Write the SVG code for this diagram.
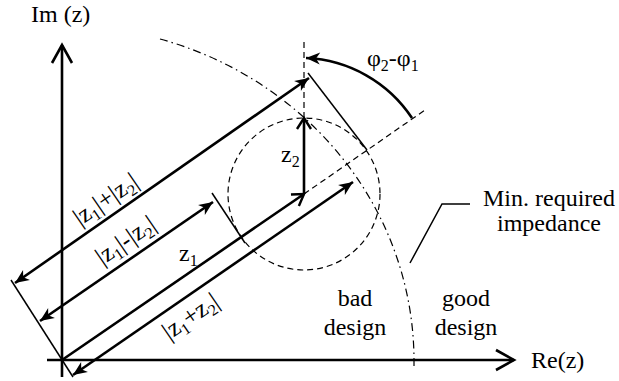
<svg xmlns="http://www.w3.org/2000/svg" width="619" height="381" viewBox="0 0 619 381" font-family="'Liberation Serif', 'DejaVu Serif', serif">
<style>
text{font-family:'Liberation Serif','DejaVu Serif',serif;fill:#000}
.lbl{font-size:24px}
.rot{font-size:25px}
.sub{font-size:16px}
.thick{stroke:#000;stroke-width:2.6;fill:none}
.thin{stroke:#000;stroke-width:1.5;fill:none}
.dash{stroke:#000;stroke-width:1.2;fill:none;stroke-dasharray:6 4}
.dashdot{stroke:#000;stroke-width:1.2;fill:none;stroke-dasharray:8 4 1.5 4}
</style>
<defs>
<marker id="axis" viewBox="-22 -12 26 24" markerWidth="26" markerHeight="24" refX="0" refY="0" markerUnits="userSpaceOnUse" orient="auto" overflow="visible">
<path d="M-18,-10 L0,0 L-18,10" fill="none" stroke="#000" stroke-width="2.6"/>
</marker>
<marker id="open" viewBox="-16 -10 20 20" markerWidth="20" markerHeight="20" refX="0" refY="0" markerUnits="userSpaceOnUse" orient="auto" overflow="visible">
<path d="M-11,-7 L0,0 L-11,7" fill="none" stroke="#000" stroke-width="2.4"/>
</marker>
<marker id="fill" viewBox="-16 -10 20 20" markerWidth="20" markerHeight="20" refX="0" refY="0" markerUnits="userSpaceOnUse" orient="auto-start-reverse" overflow="visible">
<path d="M0,0 L-14,-6 L-10,0 L-14,6 Z" fill="#000"/>
</marker>
</defs>

<g id="circle-region">
<circle cx="304" cy="194" r="76" fill="#eeeeee" class="dash"/>
</g>

<g id="guides">
<line x1="304" y1="42" x2="304" y2="118" class="dash"/>
<line x1="304" y1="194" x2="425" y2="110" class="dash"/>
<path d="M160,39 A352,335 0 0 1 414,360 L414,369" class="dashdot"/>
</g>

<g id="axes">
<line x1="62" y1="377" x2="62" y2="45" class="thick" marker-end="url(#axis)"/>
<line x1="47" y1="360" x2="514" y2="360" class="thick" marker-end="url(#axis)"/>
</g>

<g id="connectors">
<line x1="11" y1="280" x2="73" y2="377" class="thin"/>
<line x1="212" y1="193" x2="245" y2="243" class="thin"/>
<line x1="308" y1="73" x2="367" y2="150" class="thin"/>
<line x1="15" y1="283" x2="309" y2="78" class="thick" marker-start="url(#fill)" marker-end="url(#fill)"/>
<line x1="40" y1="321" x2="213" y2="202" class="thick" marker-start="url(#fill)" marker-end="url(#fill)"/>
<line x1="73" y1="375" x2="353" y2="182" class="thick" marker-start="url(#fill)" marker-end="url(#fill)"/>
<line x1="62" y1="360" x2="304" y2="194" class="thick" marker-end="url(#open)"/>
<line x1="304" y1="194" x2="304" y2="118" class="thick" marker-end="url(#open)"/>
<path d="M412,118 A134,134 0 0 0 306,58" class="thick" marker-end="url(#fill)"/>
<polyline points="410,263 442,204 470,204" class="thin" stroke-width="1.8"/>
</g>

<g id="labels">
<text class="lbl" x="31" y="22">Im (z)</text>
<text class="lbl" x="531" y="368">Re(z)</text>
<text class="lbl" x="367" y="66" font-size="23">φ<tspan class="sub" dy="5">2</tspan><tspan dy="-5">-φ</tspan><tspan class="sub" dy="5">1</tspan></text>
<text class="lbl" x="281" y="162">z<tspan class="sub" dy="5">2</tspan></text>
<text class="lbl" x="179" y="261">z<tspan class="sub" dy="5">1</tspan></text>
<g transform="translate(106,200) rotate(-34.5)">
<text class="rot" x="0" y="7" text-anchor="middle">|z<tspan class="sub" dy="5">1</tspan><tspan dy="-5">|+|z</tspan><tspan class="sub" dy="5">2</tspan><tspan dy="-5">|</tspan></text>
</g>
<g transform="translate(126,241) rotate(-34.5)">
<text class="rot" x="0" y="7" text-anchor="middle">|z<tspan class="sub" dy="5">1</tspan><tspan dy="-5">|-|z</tspan><tspan class="sub" dy="5">2</tspan><tspan dy="-5">|</tspan></text>
</g>
<g transform="translate(191,317) rotate(-34.5)">
<text class="rot" x="0" y="7" text-anchor="middle">|z<tspan class="sub" dy="5">1</tspan><tspan dy="-5">+z</tspan><tspan class="sub" dy="5">2</tspan><tspan dy="-5">|</tspan></text>
</g>
<text class="lbl" x="549" y="206" text-anchor="middle">Min. required</text>
<text class="lbl" x="549" y="231" text-anchor="middle">impedance</text>
<text class="lbl" x="355" y="306" text-anchor="middle">bad</text>
<text class="lbl" x="355" y="335" text-anchor="middle">design</text>
<text class="lbl" x="466" y="306" text-anchor="middle">good</text>
<text class="lbl" x="466" y="335" text-anchor="middle">design</text>
</g>
</svg>
